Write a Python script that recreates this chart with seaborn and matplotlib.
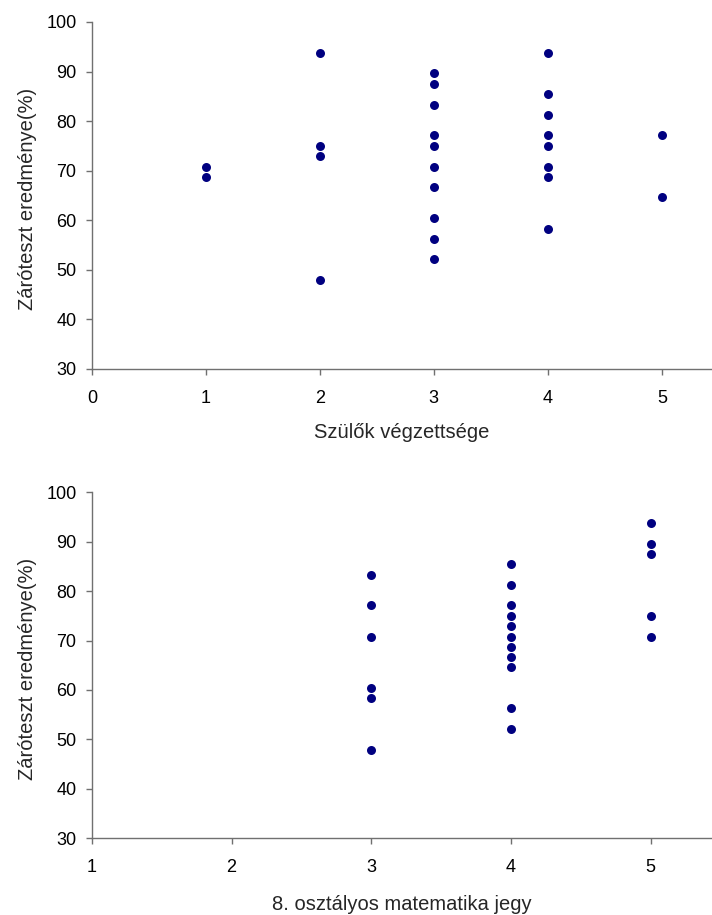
import matplotlib
matplotlib.use("Agg")
import matplotlib.pyplot as plt
import seaborn as sns
import pandas as pd

# Parents' education level vs. final test score (%)
szulok_x = [1, 1,
            2, 2, 2, 2,
            3, 3, 3, 3, 3, 3, 3, 3, 3, 3,
            4, 4, 4, 4, 4, 4, 4, 4,
            5, 5]
szulok_y = [70.8, 68.75,
            93.75, 75.0, 72.9, 47.9,
            89.6, 87.5, 83.3, 77.1, 75.0, 70.8, 66.7, 60.4, 56.25, 52.1,
            93.75, 85.4, 81.25, 77.1, 75.0, 70.8, 68.75, 58.3,
            77.1, 64.6]

# 8th-grade maths mark vs. final test score (%)
jegy_x = [3, 3, 3, 3, 3, 3,
          4, 4, 4, 4, 4, 4, 4, 4, 4, 4, 4,
          5, 5, 5, 5, 5]
jegy_y = [83.3, 77.1, 70.8, 60.4, 58.3, 47.9,
          85.4, 81.25, 77.1, 75.0, 72.9, 70.8, 68.75, 66.7, 64.6, 56.25, 52.1,
          93.75, 89.6, 87.5, 75.0, 70.8]

y_label = "Záróteszt eredménye(%)"
x_label_top = "Szülők végzettsége"
x_label_bottom = "8. osztályos matematika jegy"
y_ticks = [30, 40, 50, 60, 70, 80, 90, 100]

sns.set_theme(style="white")
plt.rcParams["font.family"] = ["Liberation Sans", "DejaVu Sans"]

fig = plt.figure(figsize=(7.12, 9.15), dpi=100)
ax1 = fig.add_axes([0.129, 0.597, 0.871, 0.379])
ax2 = fig.add_axes([0.129, 0.084, 0.871, 0.378])

df1 = pd.DataFrame({"x": szulok_x, "y": szulok_y})
df2 = pd.DataFrame({"x": jegy_x, "y": jegy_y})

marker_color = "#000080"
panels = [
    (ax1, df1, x_label_top, [0, 1, 2, 3, 4, 5], (0, 5.44), -0.156),
    (ax2, df2, x_label_bottom, [1, 2, 3, 4, 5], (1, 5.44), -0.165),
]
for ax, df, xlabel, xticks, xlim, xlabel_y in panels:
    sns.scatterplot(data=df, x="x", y="y", ax=ax, color=marker_color,
                    s=42, edgecolor=marker_color, linewidth=0, legend=False,
                    clip_on=False)
    ax.set_xlim(*xlim)
    ax.set_ylim(30, 100)
    ax.set_xticks(xticks)
    ax.set_yticks(y_ticks)
    ax.set_xlabel(xlabel, fontsize=14.5)
    ax.set_ylabel(y_label, fontsize=14.5)
    ax.xaxis.set_label_coords(0.5, xlabel_y)
    ax.yaxis.set_label_coords(-0.088, 0.49)
    for side in ["top", "right"]:
        ax.spines[side].set_visible(False)
    for side in ["left", "bottom"]:
        ax.spines[side].set_color("#707070")
        ax.spines[side].set_linewidth(1.0)
    ax.tick_params(axis="both", direction="out", length=4, width=1.0,
                   color="#707070", labelsize=13, labelcolor="black",
                   left=True, bottom=True)
    ax.tick_params(axis="x", pad=11)
    ax.tick_params(axis="y", pad=7)
    ax.grid(False)

fig.savefig("out.png", dpi=100, facecolor="white")
